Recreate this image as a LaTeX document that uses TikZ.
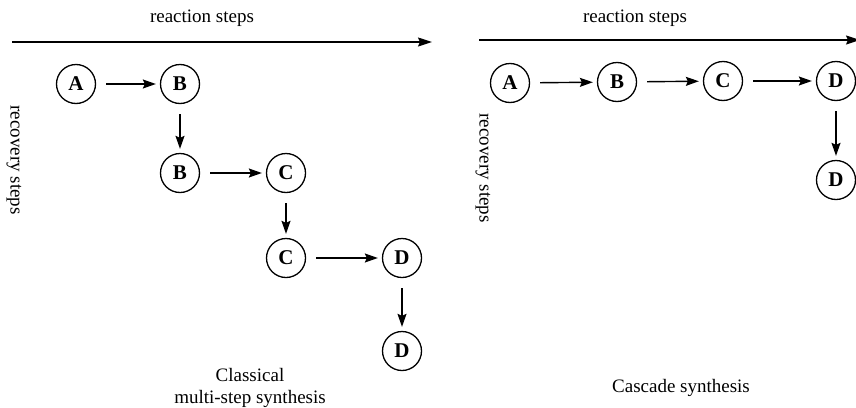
\documentclass[tikz,border=0pt]{standalone}
\usepackage{fontspec}
\setmainfont{Liberation Serif}
\usetikzlibrary{arrows.meta}
\begin{document}
\begin{tikzpicture}[x=1pt,y=-1pt,
  mol/.style={circle,draw,line width=1.3pt,minimum size=39pt,inner sep=0pt,font=\fontsize{21}{24}\selectfont\bfseries},
  lbl/.style={font=\fontsize{19}{22}\selectfont,inner sep=0pt},
  conn/.style={line width=1.4pt,-{Stealth[length=13pt,width=9pt,inset=2pt]},shorten <=10pt,shorten >=4pt},
  axis/.style={line width=1.4pt,-{Stealth[length=14pt,width=9pt,inset=2pt]}}]
\useasboundingbox (0,0) rectangle (856,407);
% left panel
\node[lbl] (t1) at (202,18) {reaction steps};
\coordinate (l0) at (12,42);
\coordinate (l1) at (432,42);
\draw[axis] (l0) -- (l1);
\node[lbl,rotate=-90] (r1) at (14,160) {recovery steps};
\node[mol] (A1) at (76,84) {A};
\node[mol] (B1) at (180,84) {B};
\node[mol] (B2) at (180,173) {B};
\node[mol] (C2) at (286,173) {C};
\node[mol] (C3) at (286,258) {C};
\node[mol] (D3) at (402,258) {D};
\node[mol] (D4) at (402,351) {D};
\draw[conn] (A1) -- (B1);
\draw[conn] (B1) -- (B2);
\draw[conn] (B2) -- (C2);
\draw[conn] (C2) -- (C3);
\draw[conn] (C3) -- (D3);
\draw[conn] (D3) -- (D4);
\node[lbl,align=center] (cap1) at (250,388) {Classical\\multi-step synthesis};
% right panel
\node[lbl] (t2) at (635,18) {reaction steps};
\coordinate (m0) at (479,40);
\coordinate (m1) at (860,40);
\draw[axis] (m0) -- (m1);
\node[lbl,rotate=-90] (r2) at (483,168) {recovery steps};
\node[mol] (A5) at (510,83) {A};
\node[mol] (B5) at (617,82) {B};
\node[mol] (C5) at (723,81) {C};
\node[mol] (D5) at (836,81) {D};
\node[mol] (D6) at (836,180) {D};
\draw[conn] (A5) -- (B5);
\draw[conn] (B5) -- (C5);
\draw[conn] (C5) -- (D5);
\draw[conn] (D5) -- (D6);
\node[lbl] (cap2) at (681,388) {Cascade synthesis};
\end{tikzpicture}
\end{document}
